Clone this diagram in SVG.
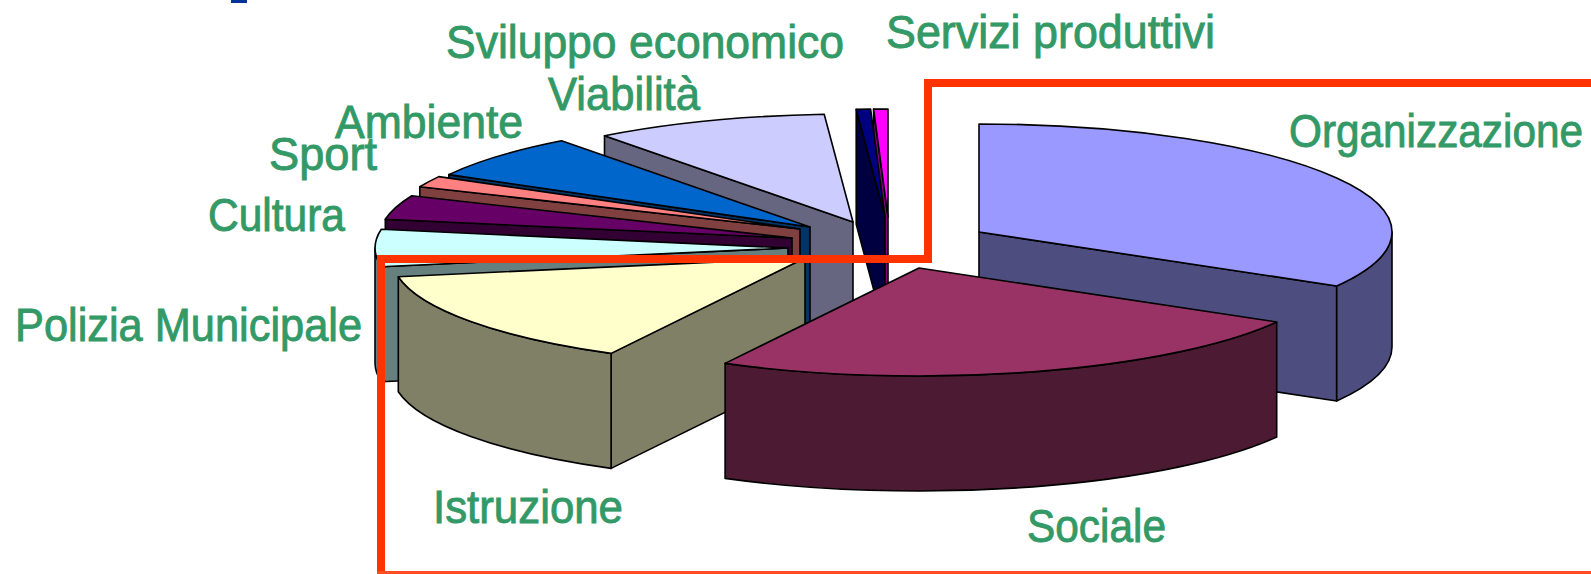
<svg xmlns="http://www.w3.org/2000/svg" width="1591" height="574" viewBox="0 0 1591 574">
<style>
.e{stroke:#000;stroke-width:1.6;stroke-linejoin:round}
.lbl{font-family:"Liberation Sans",Arial,sans-serif;font-size:46px;fill:#339966;stroke:#339966;stroke-width:0.9}
</style>
<rect width="1591" height="574" fill="#fff"/>
<rect x="231" y="0" width="16" height="3" fill="#003399"/>
<g id="servizi">
<polygon class="e" fill="#800080" points="888,217 873.6,109.1 873.6,224.1 888,332"/>
<path class="e" fill="#ff00ff" d="M888,217 L888,109 A413,108 0 0 0 873.6,109.1 Z"/>
</g>
<g id="sviluppo">
<polygon class="e" fill="#000040" points="885,217 856.2,109.3 856.2,224.3 885,332"/>
<path class="e" fill="#000080" d="M885,217 L870.6,109.1 A413,108 0 0 0 856.2,109.3 Z"/>
</g>
<g id="viabilita">
<polygon class="e" fill="#666680" points="853,222 604.5,135.8 604.5,250.8 853,337"/>
<path class="e" fill="#ccccff" d="M853,222 L824.2,114.3 A413,108 0 0 0 604.5,135.8 Z"/>
</g>
<g id="ambiente">
<polygon class="e" fill="#003366" points="810,227 448.8,174.6 448.8,289.6 810,342"/>
<path class="e" fill="#0066cc" d="M810,227 L561.5,140.8 A413,108 0 0 0 448.8,174.6 Z"/>
</g>
<g id="sport">
<polygon class="e" fill="#804040" points="800,229 419.8,186.8 419.8,301.8 800,344"/>
<path class="e" fill="#ff8080" d="M800,229 L438.8,176.6 A413,108 0 0 0 419.8,186.8 Z"/>
</g>
<g id="cultura">
<polygon class="e" fill="#330033" points="792,238 385.3,219.3 385.3,334.3 792,353"/>
<path class="e" fill="#660066" d="M792,238 L411.8,195.8 A413,108 0 0 0 385.3,219.3 Z"/>
</g>
<g id="polizia">
<polygon class="e" fill="#668080" points="788,248 381.3,266.7 381.3,381.7 788,363"/>
<path class="e" fill="#668080" d="M375,248 A413,108 0 0 0 381.3,266.7 L381.3,381.7 A413,108 0 0 1 375,363 Z"/>
<path class="e" fill="#ccffff" d="M788,248 L381.3,229.3 A413,108 0 0 0 381.3,266.7 Z"/>
</g>
<g id="organizzazione">
<polygon class="e" fill="#4d4d80" points="979,232 1336.7,286 1336.7,401 979,347"/>
<path class="e" fill="#4d4d80" d="M1336.7,286 A413,108 0 0 0 1392,232 L1392,347 A413,108 0 0 1 1336.7,401 Z"/>
<path class="e" fill="#9999ff" d="M979,232 L1336.7,286 A413,108 0 0 0 979,124 Z"/>
</g>
<g id="istruzione">
<polygon class="e" fill="#808066" points="805,258 611.1,353.4 611.1,468.4 805,373"/>
<path class="e" fill="#808066" d="M398.3,276.7 A413,108 0 0 0 611.1,353.4 L611.1,468.4 A413,108 0 0 1 398.3,391.7 Z"/>
<path class="e" fill="#ffffcc" d="M805,258 L398.3,276.7 A413,108 0 0 0 611.1,353.4 Z"/>
</g>
<g id="sociale">
<path class="e" fill="#4d1a33" d="M725.1,363.4 A413,108 0 0 0 1276.7,322 L1276.7,437 A413,108 0 0 1 725.1,478.4 Z"/>
<path class="e" fill="#993366" d="M919,268 L725.1,363.4 A413,108 0 0 0 1276.7,322 Z"/>
</g>
<g id="connectors">
<path d="M1591,83 L928,83 L928,259 L381,259 L381,574" fill="none" stroke="#ff3300" stroke-width="8"/>
<rect x="377" y="571" width="1214" height="3" fill="#ff4d26"/>
</g>
<g id="labels">
<text class="lbl" x="446" y="58" textLength="398" lengthAdjust="spacingAndGlyphs">Sviluppo economico</text>
<text class="lbl" x="886" y="48" textLength="329" lengthAdjust="spacingAndGlyphs">Servizi produttivi</text>
<text class="lbl" x="548" y="110" textLength="152" lengthAdjust="spacingAndGlyphs">Viabilità</text>
<text class="lbl" x="335" y="138" textLength="188" lengthAdjust="spacingAndGlyphs">Ambiente</text>
<text class="lbl" x="269" y="170" textLength="108" lengthAdjust="spacingAndGlyphs">Sport</text>
<text class="lbl" x="208" y="231" textLength="137" lengthAdjust="spacingAndGlyphs">Cultura</text>
<text class="lbl" x="15" y="341" textLength="347" lengthAdjust="spacingAndGlyphs">Polizia Municipale</text>
<text class="lbl" x="1289" y="147" textLength="294" lengthAdjust="spacingAndGlyphs">Organizzazione</text>
<text class="lbl" x="433" y="523" textLength="190" lengthAdjust="spacingAndGlyphs">Istruzione</text>
<text class="lbl" x="1027" y="542" textLength="139" lengthAdjust="spacingAndGlyphs">Sociale</text>
</g>
</svg>
